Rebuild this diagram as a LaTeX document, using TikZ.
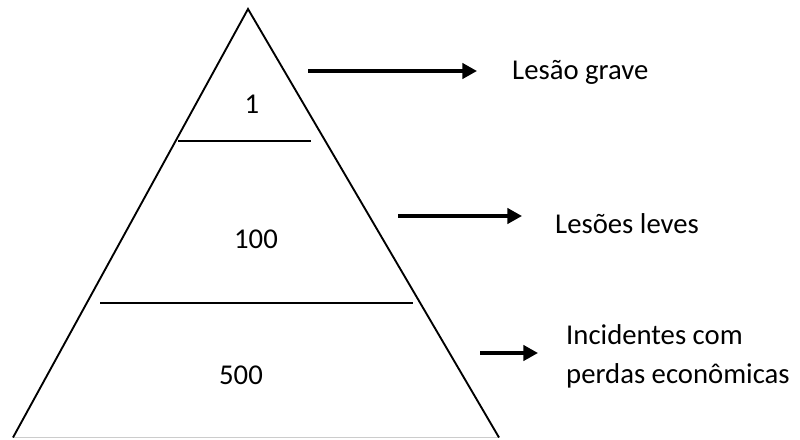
\documentclass[tikz,border=0pt]{standalone}
\usepackage{fontspec}
\setmainfont{Carlito}
\usepackage{tikz}
\usetikzlibrary{arrows.meta}

\begin{document}
\begin{tikzpicture}[x=0.03cm, y=-0.03cm,
    side/.style={line width=1.6pt},
    divider/.style={line width=2.4pt},
    seta/.style={line width=3pt, -{Triangle[length=12.5pt, width=13pt]}},
    lbl/.style={font=\fontsize{24.5}{33}\selectfont, inner sep=0pt, anchor=base west},
    num/.style={font=\fontsize{24.5}{33}\selectfont, inner sep=0pt, anchor=base}]
    \useasboundingbox (0,0) rectangle (800,439);

    % pyramid
    \coordinate (top) at (248, 9);
    \coordinate (left) at (13, 437.5);
    \coordinate (right) at (499, 437.5);
    \draw[black!20, line width=1.2pt] (left) -- (right);
    \draw[side] (left) -- (top) -- (right);

    \coordinate (d1a) at (178, 141);
    \coordinate (d1b) at (311, 141);
    \draw[divider] (d1a) -- (d1b);
    \coordinate (d2a) at (100, 303);
    \coordinate (d2b) at (413, 303);
    \draw[divider] (d2a) -- (d2b);

    \node[num] (n1) at (252, 113) {1};
    \node[num] (n100) at (256, 248) {100};
    \node[num] (n500) at (241, 384) {500};

    % labels on the right
    \node[lbl] (grave) at (512, 79) {Lesão grave};
    \coordinate (s1) at (308, 71);
    \coordinate (e1) at (477, 71);
    \draw[seta] (s1) -- (e1);

    \node[lbl] (leves) at (555, 233) {Lesões leves};
    \coordinate (s2) at (398, 216);
    \coordinate (e2) at (522, 216);
    \draw[seta] (s2) -- (e2);

    \node[lbl] (inc) at (566, 344) {Incidentes com};
    \node[lbl] (perdas) at (566, 383) {perdas econômicas};
    \coordinate (s3) at (480, 353);
    \coordinate (e3) at (538, 353);
    \draw[seta] (s3) -- (e3);

\end{tikzpicture}
\end{document}
